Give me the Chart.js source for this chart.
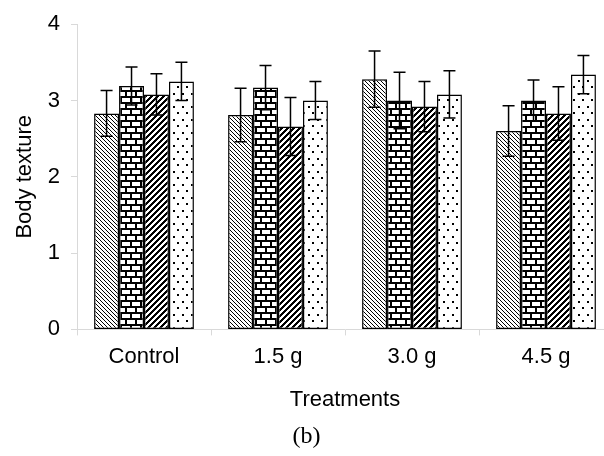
<!DOCTYPE html>
<html>
<head>
<meta charset="utf-8">
<script src="https://cdn.jsdelivr.net/npm/chart.js@4.4.1/dist/chart.umd.min.js"></script>
<style>
    html, body { margin: 0; padding: 0; background: #fff; overflow: hidden; }
    #wrap { width: 620px; height: 456px; }
</style>
</head>
<body>
<div id="wrap"><canvas id="chart" width="620" height="456"></canvas></div>
<script>
// Data
const categories = ['Control', '1.5 g', '3.0 g', '4.5 g'];
const yTicks = [0, 1, 2, 3, 4];

const series1 = [2.83, 2.81, 3.28, 2.60];
const series1Err = [0.30, 0.35, 0.37, 0.33];
const series2 = [3.19, 3.17, 3.00, 3.00];
const series2Err = [0.25, 0.29, 0.37, 0.27];
const series3 = [3.08, 2.66, 2.92, 2.83];
const series3Err = [0.27, 0.38, 0.33, 0.35];
const series4 = [3.25, 3.00, 3.08, 3.34];
const series4Err = [0.25, 0.25, 0.31, 0.25];

const grey = '#d9d9d9';

// Hatch patterns like the old Excel fills
function pixelPattern(w, h, test) {
    const c = document.createElement('canvas');
    c.width = w; c.height = h;
    const g = c.getContext('2d');
    g.fillStyle = '#fff';
    g.fillRect(0, 0, w, h);
    g.fillStyle = '#000';
    for (let y = 0; y < h; y++) {
        for (let x = 0; x < w; x++) {
            if (test(x, y)) g.fillRect(x, y, 1, 1);
        }
    }
    return g.createPattern(c, 'repeat');
}

// "\\\" thin lines
const backDiag = pixelPattern(8, 8, (x, y) => ((x - y) % 4 + 4) % 4 < 1);
// "///" wide lines
const fwdDiag = pixelPattern(12, 12, (x, y) => (x + y) % 6 < 3);
// horizontal brick
const brick = pixelPattern(10, 12, (x, y) => {
    const row = Math.floor(y / 6);
    const yy = y % 6;
    const xx = (x + (row ? 5 : 0)) % 10;
    const white = yy >= 2 && xx >= 2;
    return !white;
});
// sparse dots
const dots = pixelPattern(9, 13, (x, y) =>
    ((x === 2 || x === 3) && (y === 2 || y === 3)) ||
    ((x === 6 || x === 7) && (y === 8 || y === 9)));

// Draw error bars on top of the bars
const errorBars = {
    id: 'errorBars',
    afterDatasetsDraw(chart) {
        const ctx = chart.ctx;
        const yScale = chart.scales.y;
        chart.data.datasets.forEach((ds, i) => {
            const meta = chart.getDatasetMeta(i);
            meta.data.forEach((bar, j) => {
                const v = ds.data[j], e = ds.errors[j];
                const top = yScale.getPixelForValue(v + e);
                const bot = yScale.getPixelForValue(v - e);
                ctx.save();
                ctx.strokeStyle = '#000';
                ctx.lineWidth = 1.5;
                ctx.beginPath();
                ctx.moveTo(bar.x, top); ctx.lineTo(bar.x, bot);
                ctx.moveTo(bar.x - 6, top); ctx.lineTo(bar.x + 6, top);
                ctx.moveTo(bar.x - 6, bot); ctx.lineTo(bar.x + 6, bot);
                ctx.stroke();
                ctx.restore();
            });
        });
    }
};

Chart.defaults.font.family = "'Liberation Sans', Arial, sans-serif";
Chart.defaults.color = '#000';

function barSet(label, data, errors, fill) {
    return {
        label: label, data: data, errors: errors,
        backgroundColor: fill, borderColor: '#000', borderWidth: 1.5,
        borderSkipped: false,
        barPercentage: 1.0, categoryPercentage: 0.745
    };
}

new Chart(document.getElementById('chart'), {
    type: 'bar',
    data: {
        labels: categories,
        datasets: [
            barSet('Series 1', series1, series1Err, backDiag),
            barSet('Series 2', series2, series2Err, brick),
            barSet('Series 3', series3, series3Err, fwdDiag),
            barSet('Series 4', series4, series4Err, dots)
        ]
    },
    options: {
        responsive: false,
        animation: false,
        layout: { padding: { left: 0, right: 7, top: 19, bottom: 0 } },
        plugins: {
            legend: { display: false },
            tooltip: { enabled: false },
            title: {
                display: true, text: '(b)', position: 'bottom',
                font: { family: "'Liberation Serif', 'Times New Roman', serif", size: 24, weight: 'normal' },
                padding: { top: 9, bottom: 5 }
            }
        },
        scales: {
            x: {
                grid: { offset: true, drawOnChartArea: false, tickLength: 6, color: grey },
                border: { color: grey, width: 1 },
                ticks: { font: { size: 22 }, padding: 8, maxRotation: 0 },
                title: { display: true, text: 'Treatments', font: { size: 22 }, padding: { top: 9, bottom: 0 } }
            },
            y: {
                min: yTicks[0], max: yTicks[yTicks.length - 1],
                afterBuildTicks: (s) => { s.ticks = yTicks.map(v => ({ value: v })); },
                afterFit: (s) => { s.width = 77; },
                grid: { drawOnChartArea: false, tickLength: 6, color: grey },
                border: { color: grey, width: 1 },
                ticks: { font: { size: 22 }, padding: 11 },
                title: { display: true, text: 'Body texture', font: { size: 22 }, padding: { top: 12, bottom: 8 } }
            }
        }
    },
    plugins: [errorBars]
});
</script>
</body>
</html>
